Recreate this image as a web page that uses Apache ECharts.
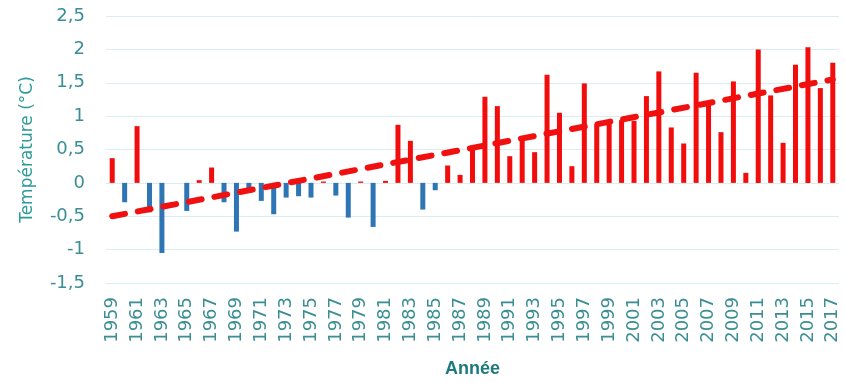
<!DOCTYPE html>
<html>
<head>
<meta charset="utf-8">
<script src="https://cdn.jsdelivr.net/npm/echarts@6/dist/echarts.min.js"></script>
<style>
html, body { margin: 0; padding: 0; background: #fff; }
#chart { width: 845px; height: 383px; }
</style>
</head>
<body>
<div id="chart"></div>
<script>
var years = [];
for (var y = 1959; y <= 2017; y++) years.push(String(y));

// temperature anomalies (°C)
var anomalies = [
	0.37, -0.29, 0.85, -0.44, -1.05, 0, -0.42, 0.04, 0.23, -0.29,
	-0.73, -0.15, -0.27, -0.47, -0.22, -0.2, -0.22, 0.02, -0.19, -0.52,
	0.02, -0.66, 0.03, 0.87, 0.63, -0.4, -0.11, 0.26, 0.12, 0.53,
	1.29, 1.15, 0.4, 0.64, 0.46, 1.62, 1.05, 0.25, 1.49, 0.88,
	0.9, 0.94, 0.93, 1.3, 1.67, 0.83, 0.59, 1.65, 1.18, 0.76,
	1.52, 0.15, 2.0, 1.31, 0.6, 1.77, 2.03, 1.42, 1.8
];

// linear trend, end points only
var trendYears = ['1959', '2017'];
var trendValues = [-0.5, 1.55];

var textColor = '#3a8e94';

var chart = echarts.init(document.getElementById('chart'));
chart.setOption({
	animation: false,
	grid: {
		left: 106,
		right: 6,
		top: 16,
		bottom: 99
	},
	xAxis: {
		type: 'category',
		data: years,
		axisLine: { show: false },
		axisTick: { show: false },
		axisLabel: {
			interval: 1,
			rotate: 90,
			margin: 14,
			fontSize: 18,
			fontFamily: 'DejaVu Sans',
			color: textColor
		},
		name: 'Année',
		nameLocation: 'middle',
		nameGap: 77,
		nameTextStyle: {
			fontSize: 18,
			fontWeight: 'bold',
			fontFamily: 'Liberation Sans',
			color: '#1f7a80'
		}
	},
	yAxis: {
		type: 'value',
		min: -1.5,
		max: 2.5,
		interval: 0.5,
		axisLine: { show: false },
		axisTick: { show: false },
		splitLine: { lineStyle: { color: '#d8eef3', width: 1 } },
		axisLabel: {
			margin: 21,
			fontSize: 18,
			fontFamily: 'DejaVu Sans',
			color: textColor,
			formatter: function(v) {
				return String(v).replace('.', ',');
			}
		},
		name: 'Température (°C)',
		nameLocation: 'middle',
		nameGap: 70,
		nameTextStyle: {
			fontSize: 17,
			fontFamily: 'DejaVu Sans',
			color: '#2f9a9a'
		}
	},
	series: [
		{
			type: 'bar',
			data: anomalies,
			barWidth: 5,
			itemStyle: {
				color: function(params) {
					return params.value >= 0 ? '#f20c0c' : '#2e75b6';
				}
			},
			z: 2
		},
		{
			type: 'line',
			data: [[trendYears[0], trendValues[0]], [trendYears[1], trendValues[1]]],
			symbol: 'none',
			lineStyle: {
				color: '#f01010',
				width: 6,
				type: [13, 13],
				cap: 'round'
			},
			z: 5
		}
	]
});
</script>
</body>
</html>
